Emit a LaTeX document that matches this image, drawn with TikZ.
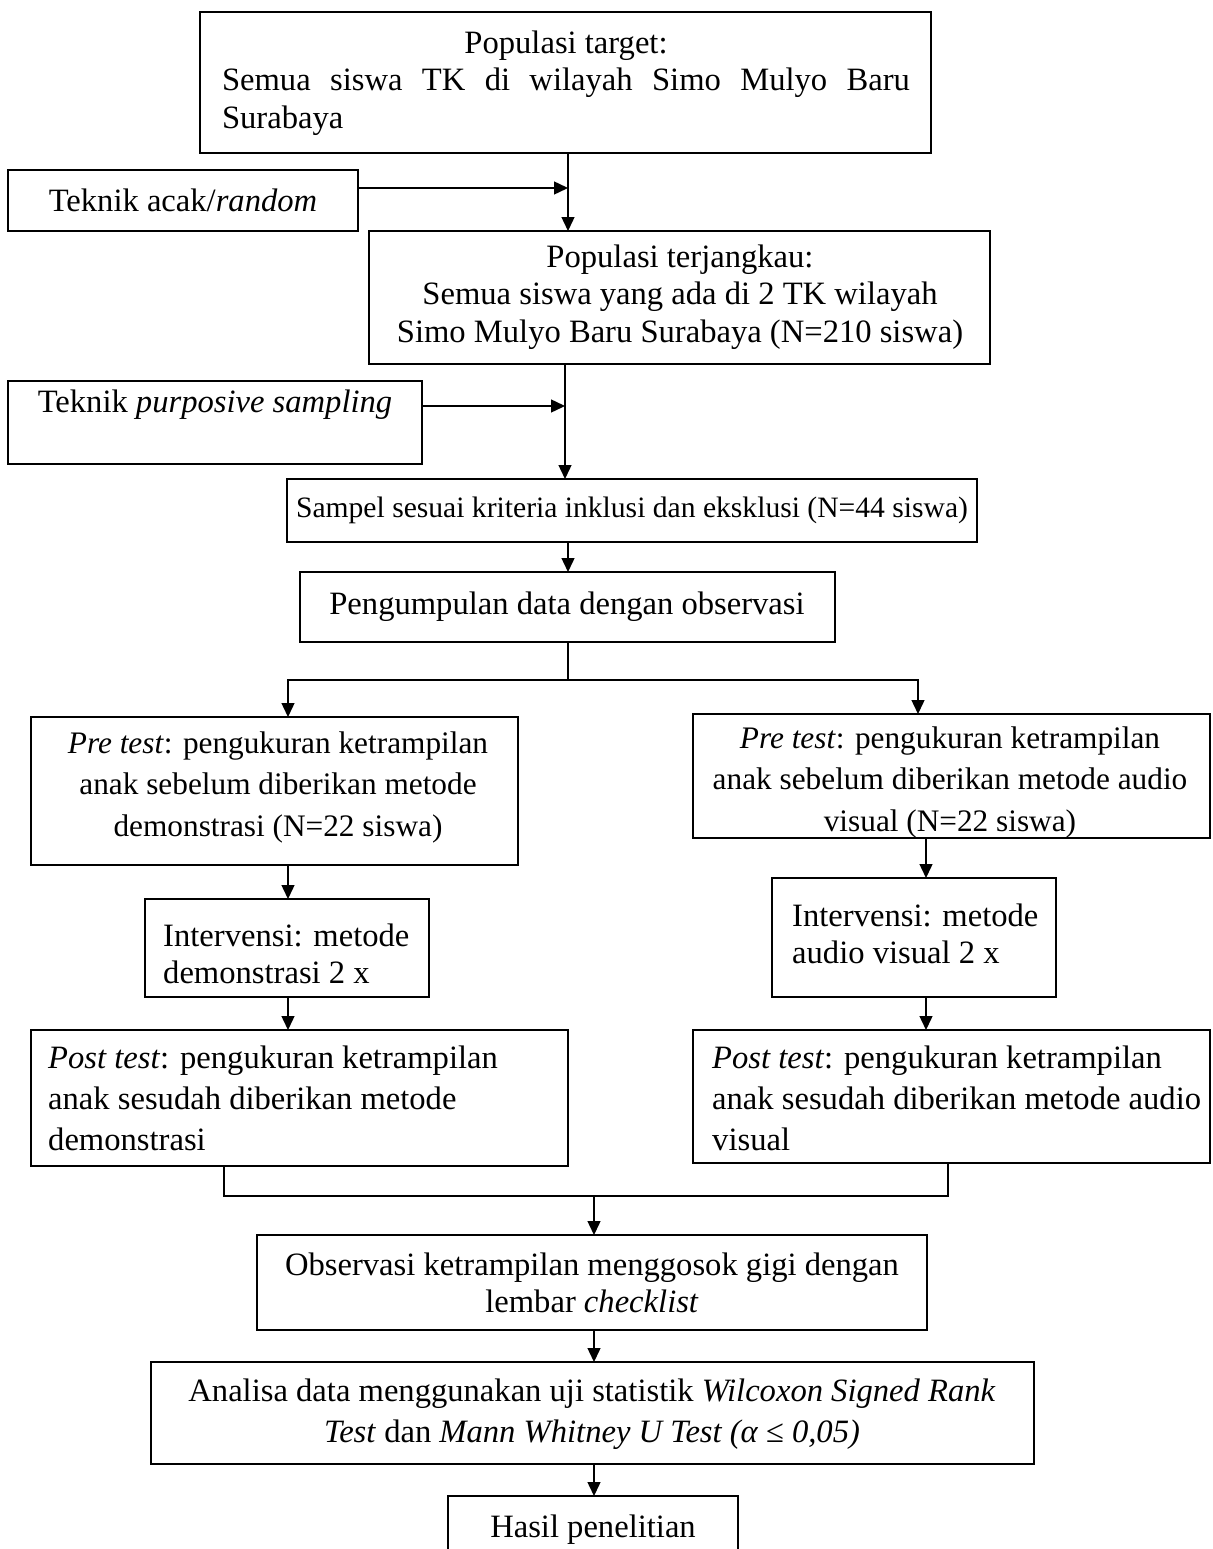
\documentclass[tikz,border=0pt]{standalone}
\usepackage{fontspec}
\setmainfont{Liberation Serif}
\usetikzlibrary{arrows.meta}
\newcommand{\boxat}[5]{\node[bx,minimum width={#4-#2},minimum height={#5-#3}] (#1) at ({(#2+#4)/2},{(#3+#5)/2}) {};}
\begin{document}
\begin{tikzpicture}[x=1pt,y=-1pt,
  bx/.style={draw,line width=1.6pt,inner sep=0pt,outer sep=0pt},
  txt/.style={inner sep=0pt,font=\fontsize{32.6}{37.5}\selectfont},
  txtw/.style={inner sep=0pt,font=\fontsize{32.6}{41}\selectfont},
  txtp/.style={inner sep=0pt,font=\fontsize{31.3}{41.5}\selectfont},
  arr/.style={line width=1.4pt,-{Triangle[length=14pt,width=13pt]}},
  ln/.style={line width=1.4pt}]
\useasboundingbox (0,0) rectangle (1212,1549);
\fill[white] (0,0) rectangle (1212,1549);
\clip (0,0) rectangle (1212,1549);
% boxes
\boxat{tgt}{200}{12}{931}{153}
\boxat{acak}{8}{170}{358}{231}
\boxat{terj}{369}{231}{990}{364}
\boxat{purp}{8}{381}{422}{464}
\boxat{samp}{287}{479}{977}{542}
\boxat{kump}{300}{572}{835}{642}
\boxat{preL}{31}{717}{518}{865}
\boxat{preR}{693}{714}{1210}{838}
\boxat{intL}{145}{899}{429}{997}
\boxat{intR}{772}{878}{1056}{997}
\boxat{postL}{31}{1030}{568}{1166}
\boxat{postR}{693}{1030}{1210}{1163}
\boxat{obs}{257}{1235}{927}{1330}
\boxat{ana}{151}{1362}{1034}{1464}
\boxat{hasil}{448}{1496}{738}{1600}
% texts
\node[txt,align=left] (tgtT) at (566,83) {\makebox[688pt]{Populasi target:}\\\makebox[688pt][s]{Semua siswa TK di wilayah Simo Mulyo Baru}\\Surabaya};
\node[txt] (acakT) at (183,200) {Teknik acak/\textit{random}};
\node[txt,align=center] (terjT) at (680,297) {Populasi terjangkau:\\Semua siswa yang ada di 2 TK wilayah\\Simo Mulyo Baru Surabaya (N=210 siswa)};
\node[txt] (purpT) at (215,405) {Teknik \textit{purposive sampling}};
\node[inner sep=0pt,font=\fontsize{29.6}{35}\selectfont] (sampT) at (632,510) {Sampel sesuai kriteria inklusi dan eksklusi (N=44 siswa)};
\node[txt] (kumpT) at (567,607) {Pengumpulan data dengan observasi};
\node[txtp,align=center] (preLT) at (278,787) {\textit{Pre test}: pengukuran ketrampilan\\anak sebelum diberikan metode\\demonstrasi (N=22 siswa)};
\node[txtp,align=center] (preRT) at (950,782) {\textit{Pre test}: pengukuran ketrampilan\\anak sebelum diberikan metode audio\\visual (N=22 siswa)};
\node[txt,align=left,anchor=west] (intLT) at (163,954) {Intervensi: metode\\demonstrasi 2 x};
\node[txt,align=left,anchor=west] (intRT) at (792,934) {Intervensi: metode\\audio visual 2 x};
\node[txtw,align=left,anchor=west] (postLT) at (48,1098) {\textit{Post test}: pengukuran ketrampilan\\anak sesudah diberikan metode\\demonstrasi};
\node[txtw,align=left,anchor=west] (postRT) at (712,1098) {\textit{Post test}: pengukuran ketrampilan\\anak sesudah diberikan metode audio\\visual};
\node[txt,align=center] (obsT) at (592,1283) {Observasi ketrampilan menggosok gigi dengan\\lembar \textit{checklist}};
\node[txtw,align=center] (anaT) at (592,1414) {Analisa data menggunakan uji statistik \textit{Wilcoxon Signed Rank}\\\textit{Test} dan \textit{Mann Whitney U Test (α ≤ 0,05)}};
\node[txt] (hasilT) at (593,1530) {Hasil penelitian};
% helper coordinates
\coordinate (v1) at (568,0);
\coordinate (v2) at (565,0);
\coordinate (hA) at (0,188);
\coordinate (hB) at (0,406);
\coordinate (split) at (568,680);
\coordinate (xl) at (288,0);
\coordinate (xr) at (918,0);
\coordinate (xr2) at (926,0);
\coordinate (bl) at (224,1196);
\coordinate (br) at (948,1196);
\coordinate (xm) at (594,0);
% connectors
\draw[arr] (tgt.south -| v1) -- (terj.north -| v1);
\draw[arr] (acak.east |- hA) -- (v1 |- hA);
\draw[arr] (terj.south -| v2) -- (samp.north -| v2);
\draw[arr] (purp.east |- hB) -- (v2 |- hB);
\draw[arr] (samp.south -| v1) -- (kump.north -| v1);
\draw[ln] (kump.south -| v1) -- (split);
\draw[arr] (split) -| (preL.north -| xl);
\draw[arr] (split) -| (preR.north -| xr);
\draw[arr] (preL.south -| xl) -- (intL.north -| xl);
\draw[arr] (intL.south -| xl) -- (postL.north -| xl);
\draw[arr] (preR.south -| xr2) -- (intR.north -| xr2);
\draw[arr] (intR.south -| xr2) -- (postR.north -| xr2);
\draw[ln] (postL.south -| bl) -- (bl) -- (br) -- (postR.south -| br);
\draw[arr] (bl -| xm) -- (obs.north -| xm);
\draw[arr] (obs.south -| xm) -- (ana.north -| xm);
\draw[arr] (ana.south -| xm) -- (hasil.north -| xm);
\end{tikzpicture}
\end{document}
